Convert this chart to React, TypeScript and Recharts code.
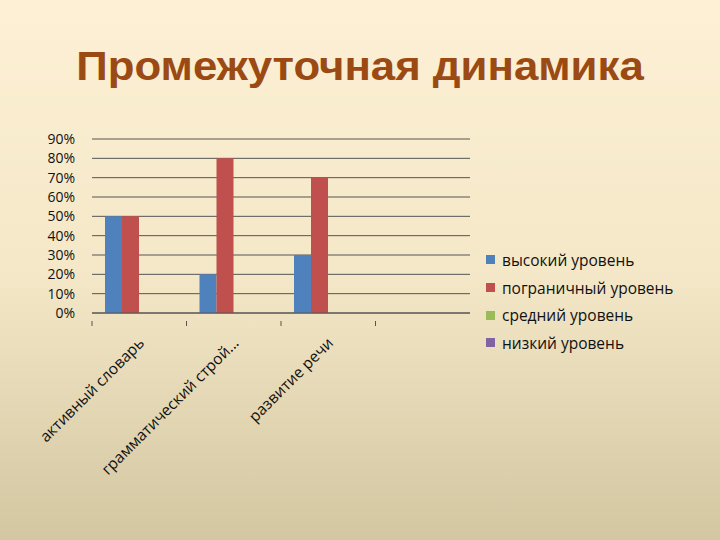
import React from 'react'
import { BarChart, Bar, XAxis, YAxis, CartesianGrid } from 'recharts'

const categories = ['активный словарь', 'грамматический строй...', 'развитие речи', '']
const high = [0.5, 0.2, 0.3, 0]
const border = [0.5, 0.8, 0.7, 0]
const middle = [0, 0, 0, 0]
const low = [0, 0, 0, 0]
const yTicks = [0, 0.1, 0.2, 0.3, 0.4, 0.5, 0.6, 0.7, 0.8, 0.9]

const series = [
  { key: 'high', name: 'высокий уровень', color: '#4F81BD' },
  { key: 'border', name: 'пограничный уровень', color: '#C0504D' },
  { key: 'middle', name: 'средний уровень', color: '#9BBB59' },
  { key: 'low', name: 'низкий уровень', color: '#8064A2' },
]

const data = categories.map((name, i) => ({
  name,
  high: high[i],
  border: border[i],
  middle: middle[i],
  low: low[i],
}))

const font = '"Open Sans", sans-serif'

function CategoryTick(props: any) {
  const { x, y, payload } = props
  // boundary tick sits half a band to the left of the category centre
  const half = 378 / 4 / 2
  const tx = x + 6
  const ty = y + 23
  return (
    <g>
      <line x1={x - half} y1={y} x2={x - half} y2={y + 5} stroke="#555" />
      <text
        x={tx}
        y={ty}
        textAnchor="end"
        transform={`rotate(-45, ${tx}, ${ty})`}
        fontSize={15.5}
        fontFamily={font}
        fill="#111"
      >
        {payload.value}
      </text>
    </g>
  )
}

function LegendBox() {
  return (
    <div
      style={{
        position: 'absolute',
        left: 486,
        top: 246,
        fontFamily: font,
        fontSize: 15.5,
        color: '#111',
      }}
    >
      {series.map((s) => (
        <div key={s.key} style={{ display: 'flex', alignItems: 'center', height: 27.7 }}>
          <span style={{ width: 9, height: 9, background: s.color, marginRight: 7, display: 'inline-block' }} />
          <span>{s.name}</span>
        </div>
      ))}
    </div>
  )
}

export default function App() {
  return (
    <div
      style={{
        position: 'absolute',
        left: 0,
        top: 0,
        width: 720,
        height: 540,
        background: 'linear-gradient(to bottom, #FDF0D5 0%, #F4E8C8 50%, #D3C6A1 100%)',
        overflow: 'hidden',
      }}
    >
      <div
        style={{
          position: 'absolute',
          top: 46,
          left: 0,
          width: 720,
          textAlign: 'center',
          fontFamily: '"Liberation Sans", Arial, sans-serif',
          fontWeight: 'bold',
          fontSize: 40.5,
          lineHeight: '40px',
          color: '#9A4A12',
          transform: 'scaleX(1.08)',
        }}
      >
        Промежуточная динамика
      </div>
      <div style={{ position: 'absolute', left: 0, top: 0 }}>
        <BarChart
          width={720}
          height={540}
          data={data}
          margin={{ top: 139, right: 250, bottom: 0, left: 32 }}
          barGap={0}
          barSize={17}
        >
          <CartesianGrid vertical={false} stroke="#555" />
          <YAxis
            width={60}
            domain={[0, 0.9]}
            ticks={yTicks}
            tickFormatter={(v: number) => `${Math.round(v * 100)}%`}
            axisLine={false}
            tickLine={false}
            tickSize={0}
            tickMargin={17}
            tick={{ fontSize: 14, fontFamily: font, fill: '#111' }}
            interval={0}
          />
          <XAxis
            dataKey="name"
            height={227}
            interval={0}
            axisLine={{ stroke: '#555' }}
            tickLine={false}
            tick={<CategoryTick />}
          />
          {series.map((s) => (
            <Bar key={s.key} dataKey={s.key} name={s.name} fill={s.color} isAnimationActive={false} />
          ))}
        </BarChart>
      </div>
      <LegendBox />
    </div>
  )
}
